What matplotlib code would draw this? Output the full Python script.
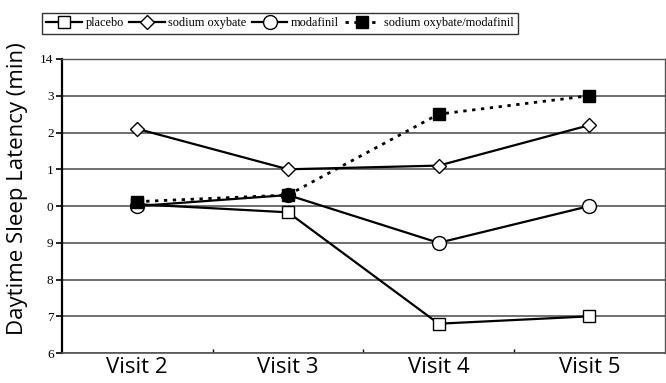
import matplotlib.pyplot as plt
import numpy as np

visits = ['Visit 2', 'Visit 3', 'Visit 4', 'Visit 5']
placebo = [10.05, 9.83, 6.8, 7.0]
sodium_oxybate = [12.1, 11.0, 11.1, 12.2]
modafinil = [10.0, 10.3, 9.0, 10.0]
sxb_modafinil = [10.12, 10.3, 12.5, 13.0]

y_ticks = [6, 7, 8, 9, 10, 11, 12, 13, 14]
y_tick_labels = ['6', '7', '8', '9', '0', '1', '2', '3', '14']

x = np.arange(len(visits))

fig = plt.figure(figsize=(6.66, 3.83), dpi=100)
ax = fig.add_axes([0.093, 0.078, 0.905, 0.768])

ax.plot(x, placebo, color='black', lw=1.6, marker='s', ms=8,
        mfc='white', mec='black', mew=1.0, label='placebo', zorder=3)
ax.plot(x, sodium_oxybate, color='black', lw=1.6, marker='D', ms=7.5,
        mfc='white', mec='black', mew=1.0, label='sodium oxybate', zorder=3)
ax.plot(x, modafinil, color='black', lw=1.6, marker='o', ms=10,
        mfc='white', mec='black', mew=1.0, label='modafinil', zorder=3)
ax.plot(x, sxb_modafinil, color='black', lw=2.0, ls=(0, (1.2, 2.0)), marker='s', ms=8,
        mfc='black', mec='black', label='sodium oxybate/modafinil', zorder=4)

ax.set_xlim(-0.5, 3.5)
ax.set_ylim(6, 14)
ax.set_yticks(y_ticks)
ax.set_yticklabels(y_tick_labels, fontfamily='Liberation Serif', fontsize=9.5)
ax.set_xticks(x)
ax.set_xticklabels(visits, fontfamily='Open Sans', fontsize=16)
ax.set_xticks([0.5, 1.5, 2.5], minor=True)
ax.tick_params(axis='x', which='major', length=0, pad=3)
ax.tick_params(axis='x', which='minor', length=3, width=1.0, direction='in')
ax.tick_params(axis='y', length=4, width=1.2, direction='out', pad=2)

ax.grid(axis='y', color='#555555', lw=1.2)
ax.set_axisbelow(True)
for side in ['top', 'right']:
    ax.spines[side].set_color('#555555')
    ax.spines[side].set_linewidth(1.0)
ax.spines['left'].set_linewidth(1.6)
ax.spines['bottom'].set_linewidth(1.2)
ax.spines['bottom'].set_color('#555555')

ax.set_ylabel('Daytime Sleep Latency (min)', fontfamily='Open Sans', fontsize=16)
ax.yaxis.set_label_coords(-0.057, 0.56)

leg = fig.legend(loc='upper left', bbox_to_anchor=(0.063, 0.966), ncol=4,
                 prop={'family': 'Liberation Serif', 'size': 8.8},
                 frameon=True, fancybox=False, edgecolor='black',
                 handlelength=2.9, handletextpad=0.3, columnspacing=0.45,
                 borderpad=0.35, borderaxespad=0)
leg.get_frame().set_linewidth(1.0)
leg.set_zorder(5)

fig.savefig('out.png', dpi=100)
